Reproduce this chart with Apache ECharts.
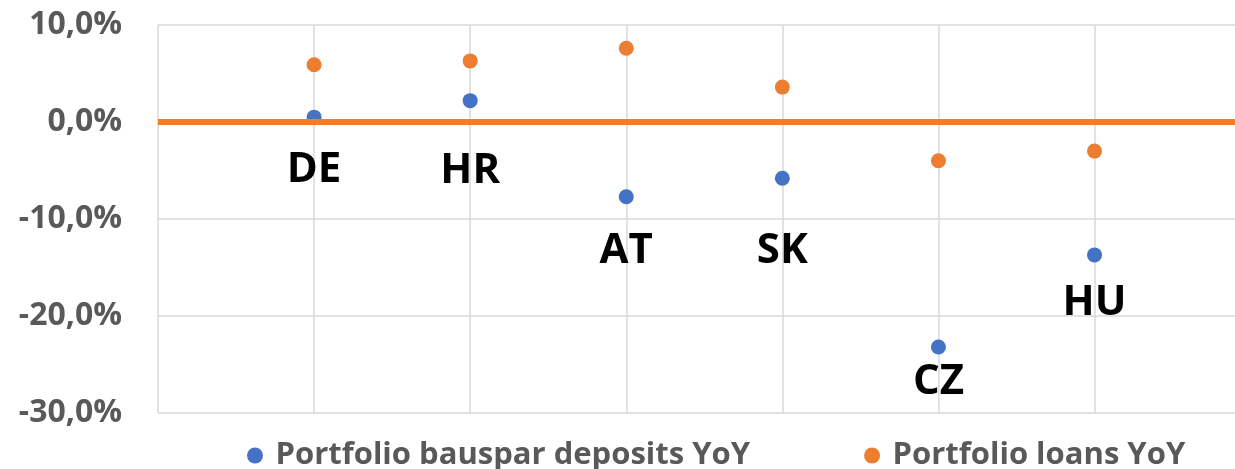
<!DOCTYPE html>
<html>
<head>
<meta charset="utf-8">
<script src="https://cdn.jsdelivr.net/npm/echarts@6/dist/echarts.min.js"></script>
<style>
    html, body { margin: 0; padding: 0; background: #fff; }
    #chart { width: 1235px; height: 469px; }
</style>
</head>
<body>
<div id="chart"></div>
<script>
// Countries (placed at x = 1..6)
const countries = ['DE', 'HR', 'AT', 'SK', 'CZ', 'HU'];
// YoY change in %
const depositsYoY = [0.5, 2.2, -7.7, -5.8, -23.2, -13.7];
const loansYoY = [5.9, 6.3, 7.6, 3.6, -4.0, -3.0];
const seriesNames = ['Portfolio bauspar deposits YoY', 'Portfolio loans YoY'];
// y tick values
const yTicks = [-30, -20, -10, 0, 10];

// label offsets below the blue points (px), hand placed like in the original
const labelOffsets = [53, 70, 54, 73, 35, 48];

document.addEventListener('DOMContentLoaded', function() {
    const chart = echarts.init(document.getElementById('chart'));
    const font = '"Open Sans", sans-serif';

    const depositsData = depositsYoY.map((v, i) => ({
        value: [i + 1, v],
        label: { offset: [0, labelOffsets[i]] }
    }));
    const loansData = loansYoY.map((v, i) => [i + 1, v]);

    chart.setOption({
        animation: false,
        grid: {
            left: 158,
            top: 25,
            bottom: 56,
            right: 0
        },
        legend: {
            left: 242,
            top: 435,
            itemGap: 114,
            itemWidth: 31,
            itemHeight: 16,
            data: seriesNames.map(n => ({ name: n, icon: 'circle' })),
            textStyle: {
                fontFamily: font,
                fontWeight: 'bold',
                fontSize: 31,
                color: '#595959'
            }
        },
        xAxis: {
            type: 'value',
            min: 0,
            max: 6.9,
            interval: 1,
            axisLine: { show: false },
            axisTick: { show: false },
            axisLabel: { show: false },
            splitLine: { showMaxLine: false, lineStyle: { color: '#d9d9d9', width: 1.5 } }
        },
        yAxis: {
            type: 'value',
            min: yTicks[0],
            max: yTicks[yTicks.length - 1],
            interval: 10,
            axisLine: { show: false },
            axisTick: { show: false },
            splitLine: { lineStyle: { color: '#d9d9d9', width: 1.5 } },
            axisLabel: {
                margin: 36,
                fontFamily: font,
                fontWeight: 'bold',
                fontSize: 32,
                color: '#595959',
                formatter: v => v.toFixed(1).replace('.', ',') + '%'
            }
        },
        series: [
            {
                name: seriesNames[0],
                type: 'scatter',
                symbolSize: 15,
                z: 2,
                itemStyle: { color: '#4472C4', opacity: 1 },
                data: depositsData,
                label: {
                    show: true,
                    position: 'inside',
                    formatter: p => countries[p.dataIndex],
                    fontFamily: font,
                    fontWeight: 'bold',
                    fontSize: 42,
                    color: '#000000',
                    textBorderWidth: 0
                }
            },
            {
                name: seriesNames[1],
                type: 'scatter',
                symbolSize: 15,
                z: 3,
                itemStyle: { color: '#ED7D31', opacity: 1 },
                data: loansData,
                markLine: {
                    silent: true,
                    symbol: 'none',
                    label: { show: false },
                    lineStyle: { color: '#ED7D31', width: 6, type: 'solid', opacity: 1 },
                    data: [{ yAxis: 0 }]
                }
            }
        ]
    });

    window.addEventListener('resize', function() {
        chart.resize();
    });
});
</script>
</body>
</html>
